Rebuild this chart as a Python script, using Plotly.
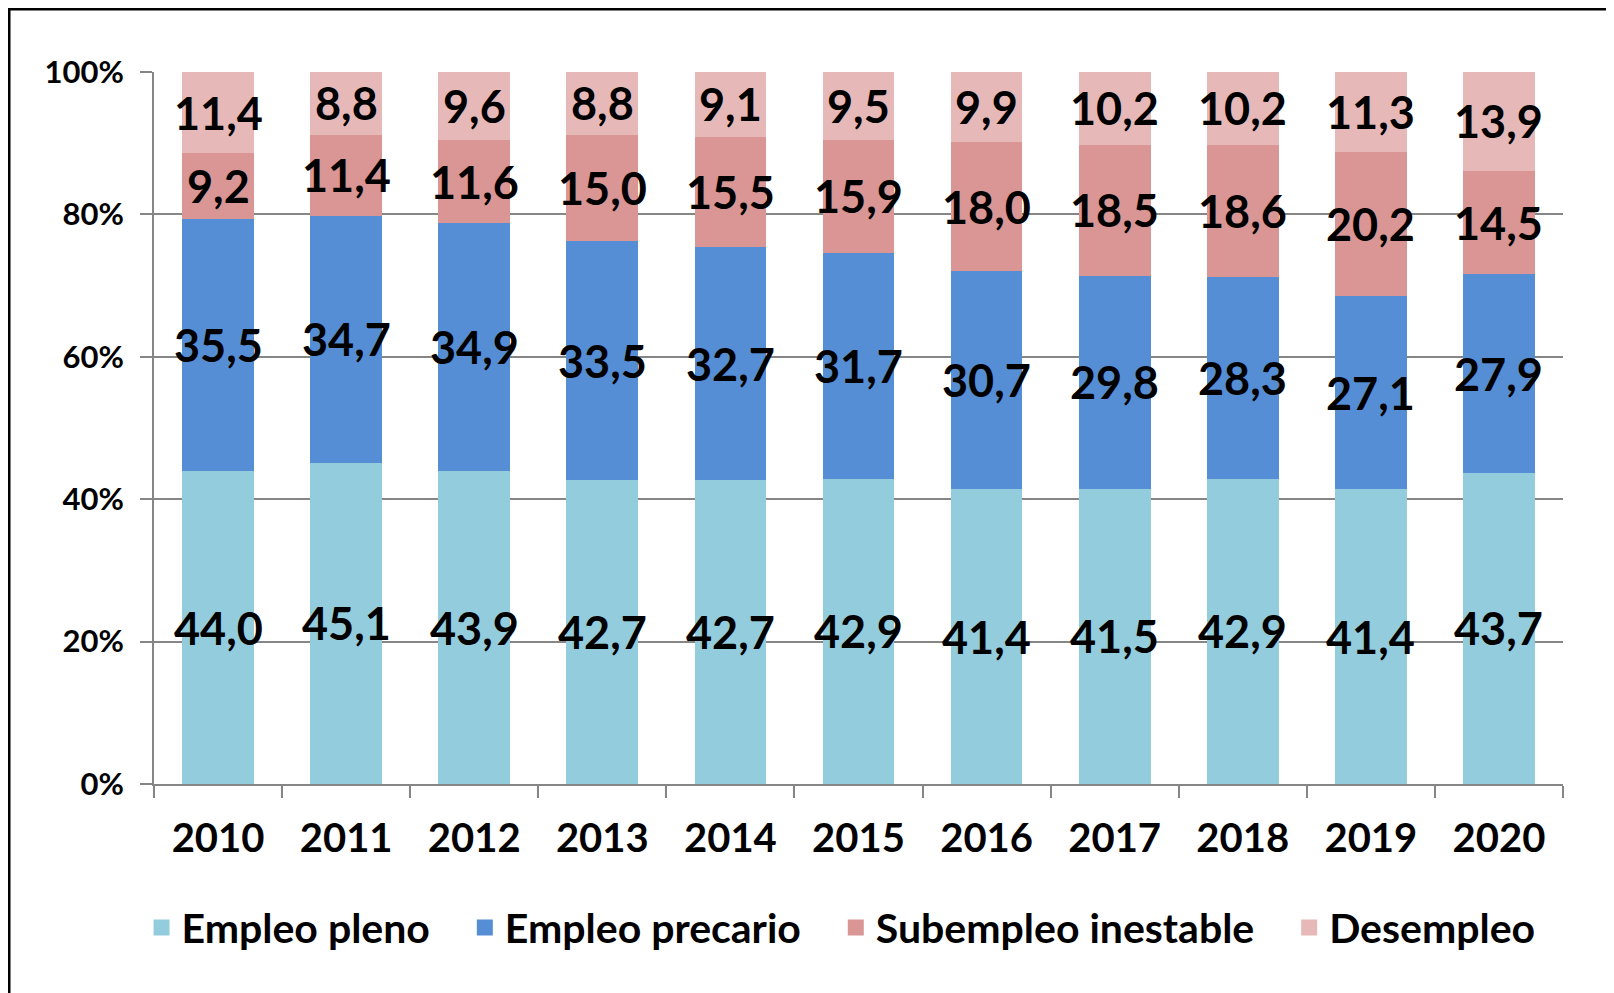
import plotly.graph_objects as go

years = ['2010', '2011', '2012', '2013', '2014', '2015', '2016', '2017', '2018', '2019', '2020']
empleo_pleno = [44.0, 45.1, 43.9, 42.7, 42.7, 42.9, 41.4, 41.5, 42.9, 41.4, 43.7]
empleo_precario = [35.5, 34.7, 34.9, 33.5, 32.7, 31.7, 30.7, 29.8, 28.3, 27.1, 27.9]
subempleo = [9.2, 11.4, 11.6, 15.0, 15.5, 15.9, 18.0, 18.5, 18.6, 20.2, 14.5]
desempleo = [11.4, 8.8, 9.6, 8.8, 9.1, 9.5, 9.9, 10.2, 10.2, 11.3, 13.9]
y_ticks = [0, 20, 40, 60, 80, 100]
y_ticktext = ['0%', '20%', '40%', '60%', '80%', '100%']

series = [
    ('Empleo pleno', empleo_pleno, '#93CDDD'),
    ('Empleo precario', empleo_precario, '#558ED5'),
    ('Subempleo inestable', subempleo, '#D99694'),
    ('Desempleo', desempleo, '#E6B9B8'),
]

FONT = 'Century Gothic, Lato, sans-serif'
PAD = '\u00a0' * 3  # extra room between legend entries

fig = go.Figure()
totals = [sum(v) for v in zip(*[s[1] for s in series])]
base = [0.0] * len(years)
annotations = []
for k, (name, vals, color) in enumerate(series):
    fig.add_trace(go.Bar(x=years, y=vals, name=name, showlegend=False,
                         marker=dict(color=color, line=dict(width=0))))
    # legend entry with a bigger square swatch
    fig.add_trace(go.Scatter(x=[None], y=[None], mode='markers',
                             name=name + (PAD if k < len(series) - 1 else ''),
                             marker=dict(symbol='square', size=18, color=color)))
    for i, v in enumerate(vals):
        share = v / totals[i] * 100
        # category axis: use index position, '2010' would be read as index 2010
        annotations.append(dict(
            x=i, y=base[i] + share / 2, text=f'{v:.1f}'.replace('.', ','),
            showarrow=False, font=dict(family=FONT, size=45, color='black', weight='bold'),
            xref='x', yref='y'))
        base[i] += share

fig.update_layout(
    barmode='stack',
    barnorm='percent',
    bargap=0.44,
    width=1614,
    height=993,
    margin=dict(l=146, r=59, t=64, b=217),
    plot_bgcolor='white',
    paper_bgcolor='white',
    font=dict(family=FONT, color='black'),
    annotations=annotations,
    legend=dict(
        orientation='h', x=0.4876, xanchor='center', y=-0.202, yanchor='middle',
        font=dict(family=FONT, size=41, weight='bold'),
        traceorder='normal', itemwidth=30,
    ),
    shapes=[dict(type='rect', xref='paper', yref='paper',
                 x0=-0.1029, x1=1.06, y0=-0.4, y1=1.0885,
                 line=dict(color='black', width=3), fillcolor='rgba(0,0,0,0)', layer='above')],
)

fig.update_yaxes(
    range=[0, 100], tickvals=y_ticks, ticktext=y_ticktext,
    showgrid=True, gridcolor='#868686', gridwidth=2,
    showline=True, linecolor='#868686', linewidth=2,
    ticks='outside', ticklen=12, tickcolor='#868686', tickwidth=2,
    ticklabelstandoff=10,
    tickfont=dict(family=FONT, size=31, weight='bold'), zeroline=False,
)
fig.update_xaxes(
    type='category', range=[-0.5, len(years) - 0.5],
    showline=True, linecolor='#868686', linewidth=2,
    ticks='outside', tickson='boundaries', ticklen=12, tickcolor='#868686', tickwidth=2,
    ticklabelstandoff=18,
    tickfont=dict(family=FONT, size=40, weight='bold'),
)

fig.write_html('out.html')
